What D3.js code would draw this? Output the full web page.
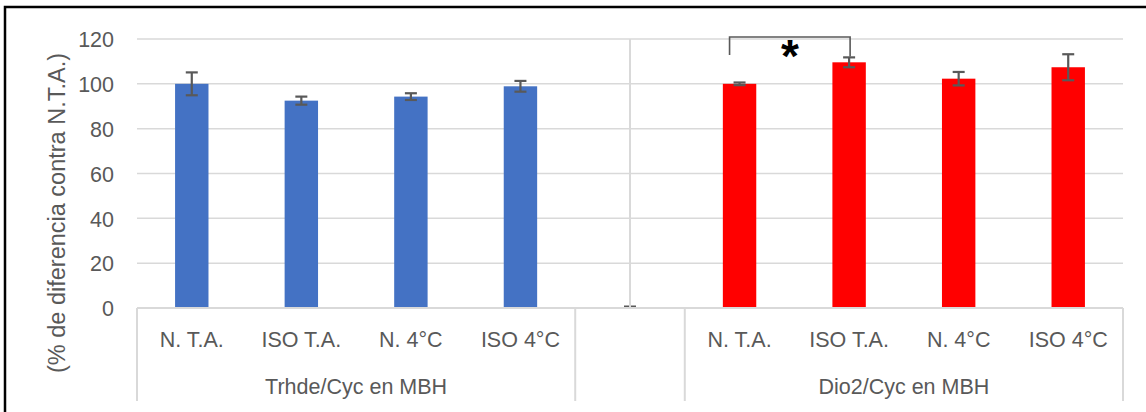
<!DOCTYPE html>
<html>
<head>
<meta charset="utf-8">
<script src="https://cdn.jsdelivr.net/npm/d3@7"></script>
<style>
  html, body { margin: 0; padding: 0; background: #fff; }
  svg { display: block; }
  text { font-family: "Liberation Sans", Arial, sans-serif; }
</style>
</head>
<body>
<svg id="chart" width="1146" height="412"></svg>
<script>
// Categories for each gene group
const conditions = ["N. T.A.", "ISO T.A.", "N. 4°C", "ISO 4°C"];
const groups = ["Trhde/Cyc en MBH", "Dio2/Cyc en MBH"];

// Mean values (% of N. T.A.) and standard errors
const trhdeValues = [100, 92.5, 94.3, 98.9];
const trhdeErrors = [5.1, 1.8, 1.5, 2.4];
const dio2Values = [100, 109.6, 102.3, 107.4];
const dio2Errors = [0.6, 2.2, 3.0, 5.8];

const yTicks = [0, 20, 40, 60, 80, 100, 120];
const yTitle = "(% de diferencia contra N.T.A.)";

// Band keys: four Trhde bars, an empty separator slot, four Dio2 bars
const keys = [
  ...conditions.map(c => "T|" + c),
  "gap",
  ...conditions.map(c => "D|" + c)
];

const bars = [
  ...conditions.map((c, i) => ({ key: "T|" + c, label: c, value: trhdeValues[i], err: trhdeErrors[i], color: "#4472C4" })),
  ...conditions.map((c, i) => ({ key: "D|" + c, label: c, value: dio2Values[i], err: dio2Errors[i], color: "#FF0000" }))
];

const svg = d3.select("#chart");
const plot = { left: 137, right: 1123, top: 39, bottom: 308 };
const textColor = "#595959";

const x = d3.scaleBand().domain(keys).range([plot.left, plot.right]).paddingInner(0).paddingOuter(0);
const y = d3.scaleLinear().domain([0, 120]).range([plot.bottom, plot.top]);
const barW = x.bandwidth() * 0.305;

// Outer frame (only top and left edges fall inside the view)
svg.append("rect")
  .attr("x", 5).attr("y", 7).attr("width", 1300).attr("height", 600)
  .attr("fill", "none").attr("stroke", "#000").attr("stroke-width", 2.5);

// Horizontal gridlines
svg.append("g").selectAll("line").data(yTicks.filter(t => t > 0)).join("line")
  .attr("x1", plot.left).attr("x2", plot.right)
  .attr("y1", d => y(d)).attr("y2", d => y(d))
  .attr("stroke", "#d9d9d9").attr("stroke-width", 1.5);

// Y axis labels
const yAxis = d3.axisLeft(y).tickValues(yTicks).tickSize(0).tickPadding(0);
const yg = svg.append("g").attr("transform", `translate(114,0)`).call(yAxis);
yg.select(".domain").remove();
yg.selectAll("text")
  .attr("dy", "0.36em")
  .style("font-size", "21.5px")
  .style("font-family", "\"Liberation Sans\", Arial, sans-serif")
  .style("fill", textColor);

// Y axis title
svg.append("text")
  .attr("transform", `translate(65,213) rotate(-90)`)
  .attr("text-anchor", "middle")
  .style("font-size", "23.5px")
  .style("fill", textColor)
  .text(yTitle);

// Separator slot: vertical gridline and zero-height marker
const gapX = x("gap") + x.bandwidth() / 2;
svg.append("line")
  .attr("x1", gapX).attr("x2", gapX)
  .attr("y1", y(120)).attr("y2", y(0))
  .attr("stroke", "#d9d9d9").attr("stroke-width", 2);
svg.append("line")
  .attr("x1", gapX - 6).attr("x2", gapX + 6)
  .attr("y1", y(0) - 1.5).attr("y2", y(0) - 1.5)
  .attr("stroke", textColor).attr("stroke-width", 2)
  .attr("stroke-dasharray", "5,2");

// Bars
svg.append("g").selectAll("rect").data(bars).join("rect")
  .attr("x", d => x(d.key) + (x.bandwidth() - barW) / 2)
  .attr("width", barW)
  .attr("y", d => y(d.value))
  .attr("height", d => y(0) - y(d.value))
  .attr("fill", d => d.color);

// Error bars
const eb = svg.append("g").attr("stroke", textColor).attr("stroke-width", 2.2).attr("fill", "none");
bars.forEach(d => {
  const cx = x(d.key) + x.bandwidth() / 2;
  const hi = y(d.value + d.err), lo = y(d.value - d.err);
  eb.append("line").attr("x1", cx).attr("x2", cx).attr("y1", hi).attr("y2", lo);
  eb.append("line").attr("x1", cx - 6).attr("x2", cx + 6).attr("y1", hi).attr("y2", hi);
  eb.append("line").attr("x1", cx - 6).attr("x2", cx + 6).attr("y1", lo).attr("y2", lo);
});

// Category axis: baseline and group dividers
const axisG = svg.append("g").attr("stroke", "#d9d9d9").attr("stroke-width", 2);
const axisBottom = 401;
axisG.append("line").attr("x1", plot.left).attr("x2", plot.right).attr("y1", y(0)).attr("y2", y(0));
const dividers = [plot.left, x("gap"), x("gap") + x.bandwidth(), plot.right];
dividers.forEach(dx => {
  axisG.append("line").attr("x1", dx).attr("x2", dx).attr("y1", y(0)).attr("y2", axisBottom);
});

// Condition labels
svg.append("g").selectAll("text").data(bars).join("text")
  .attr("x", d => x(d.key) + x.bandwidth() / 2)
  .attr("y", 347)
  .attr("text-anchor", "middle")
  .style("font-size", "21.5px")
  .style("fill", textColor)
  .text(d => d.label);

// Group labels
const groupCenters = [
  (x("T|" + conditions[0]) + x("T|" + conditions[3]) + x.bandwidth()) / 2,
  (x("D|" + conditions[0]) + x("D|" + conditions[3]) + x.bandwidth()) / 2
];
svg.append("g").selectAll("text").data(groups).join("text")
  .attr("x", (d, i) => groupCenters[i])
  .attr("y", 394)
  .attr("text-anchor", "middle")
  .style("font-size", "21.5px")
  .style("fill", textColor)
  .text(d => d);

// Significance bracket between Dio2 N. T.A. and ISO T.A.
const b0 = x("D|" + conditions[0]) + x.bandwidth() / 2 - 10;
const b1 = x("D|" + conditions[1]) + x.bandwidth() / 2 + 1;
const bTop = y(120.9);
svg.append("path")
  .attr("d", `M${b0},${y(112.9)} V${bTop} H${b1} V${y(dio2Values[1] + dio2Errors[1]) - 1}`)
  .attr("fill", "none").attr("stroke", textColor).attr("stroke-width", 1.6);
svg.append("text")
  .attr("x", (b0 + b1) / 2)
  .attr("y", 72)
  .attr("text-anchor", "middle")
  .style("font-size", "46px")
  .style("font-weight", "bold")
  .style("fill", "#000")
  .text("*");
</script>
</body>
</html>
